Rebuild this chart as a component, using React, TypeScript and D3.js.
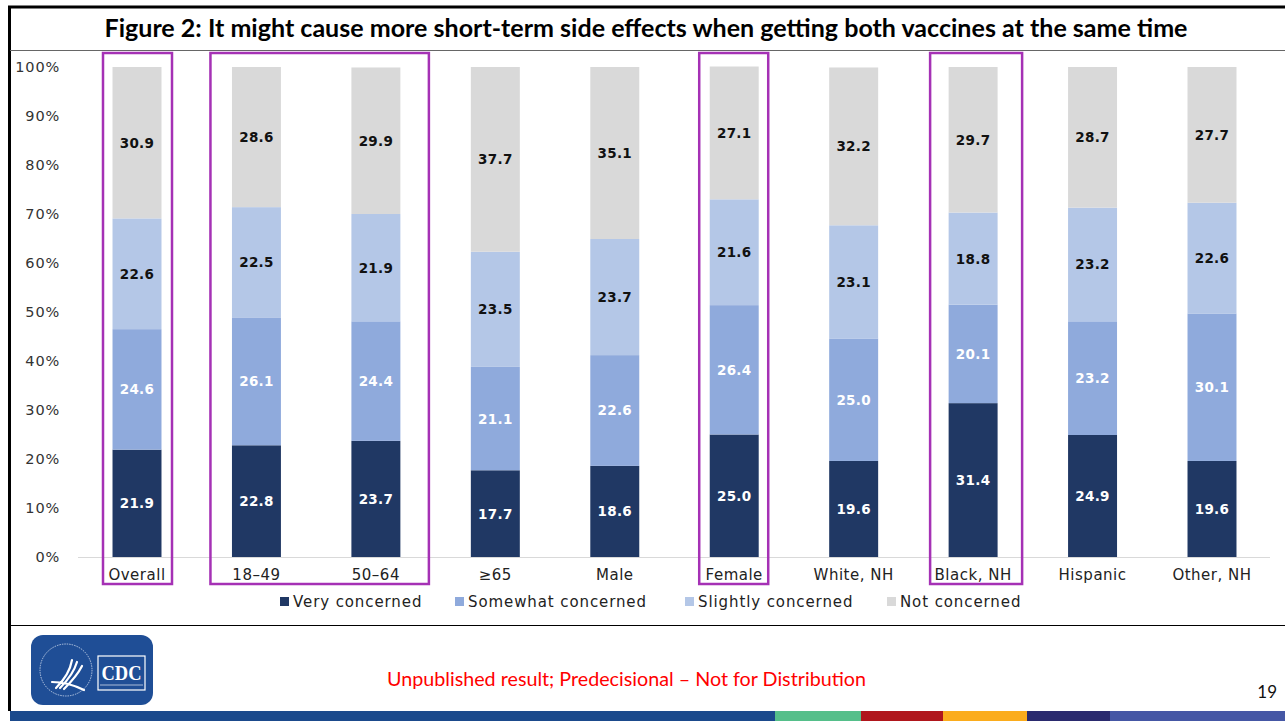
import React from "react";
import * as d3 from "d3";

const categories = ["Overall", "18–49", "50–64", "≥65", "Male", "Female", "White, NH", "Black, NH", "Hispanic", "Other, NH"];
const seriesNames = ["Very concerned", "Somewhat concerned", "Slightly concerned", "Not concerned"];
const veryConcerned = [21.9, 22.8, 23.7, 17.7, 18.6, 25.0, 19.6, 31.4, 24.9, 19.6];
const somewhatConcerned = [24.6, 26.1, 24.4, 21.1, 22.6, 26.4, 25.0, 20.1, 23.2, 30.1];
const slightlyConcerned = [22.6, 22.5, 21.9, 23.5, 23.7, 21.6, 23.1, 18.8, 23.2, 22.6];
const notConcerned = [30.9, 28.6, 29.9, 37.7, 35.1, 27.1, 32.2, 29.7, 28.7, 27.7];
const yTicks = [0, 10, 20, 30, 40, 50, 60, 70, 80, 90, 100];
const highlightGroups = [["Overall"], ["18–49", "50–64"], ["Female"], ["Black, NH"]];

const colors = ["#203864", "#8faadc", "#b4c7e7", "#d9d9d9"];
const labelColors = ["#ffffff", "#ffffff", "#111111", "#111111"];
const stripe = ["#1b4a8c", "#55bf8a", "#b0161c", "#fbac1c", "#2a2a6e", "#4557a5"];
const stripeStops = [10, 775, 861, 943, 1027, 1110, 1285];

export default function App() {
  const W = 1285, H = 721;
  const values = [veryConcerned, somewhatConcerned, slightlyConcerned, notConcerned];
  const rows = categories.map((c, i) => {
    const o: any = { cat: c };
    seriesNames.forEach((s, k) => (o[s] = values[k][i]));
    return o;
  });
  const stack = d3.stack<any>().keys(seriesNames)(rows);
  const step = 119.44;
  const x = d3.scaleBand<string>().domain(categories).range([137 - step / 2, 1212 + step / 2]).paddingInner(0.59).paddingOuter(0.295);
  const y = d3.scaleLinear().domain([0, 100]).range([557, 67]);
  const bw = x.bandwidth();
  const font = "'DejaVu Sans', Verdana, sans-serif";
  const cx = (c: string) => (x(c) as number) + bw / 2;

  const boxPad: Record<string, [number, number]> = {
    "Overall": [34, 35],
    "18–49": [46, 0],
    "50–64": [0, 53],
    "Female": [35, 34],
    "Black, NH": [43, 49],
  };

  const legendX = [280, 455, 685, 887];

  return (
    <svg width={W} height={H} style={{ position: "absolute", left: 0, top: 0, background: "#fff" }}>
      <rect x={0} y={0} width={W} height={H} fill="#fff" />
      {/* frame lines */}
      <line x1={8} x2={W} y1={7} y2={7} stroke="#000" strokeWidth={3} />
      <line x1={9.5} x2={9.5} y1={6} y2={711} stroke="#000" strokeWidth={3} />
      <line x1={10} x2={W} y1={50.5} y2={50.5} stroke="#666" strokeWidth={1} />
      <line x1={10} x2={W} y1={625.5} y2={625.5} stroke="#000" strokeWidth={1.2} />

      <text x={646} y={37} textAnchor="middle" fontFamily="Lato, 'Open Sans', sans-serif" fontWeight={700} fontSize={25} textLength={1083} lengthAdjust="spacingAndGlyphs" fill="#000">
        Figure 2: It might cause more short-term side effects when getting both vaccines at the same time
      </text>

      {/* y axis */}
      {yTicks.map((t) => (
        <text key={t} x={60} y={y(t) + 5} textAnchor="end" fontFamily={font} fontSize={14.5} letterSpacing={0.8} fill="#333">
          {t}%
        </text>
      ))}
      <line x1={78} x2={1270} y1={557.5} y2={557.5} stroke="#d9d9d9" strokeWidth={1} />

      {/* bars */}
      {stack.map((layer, k) => (
        <g key={layer.key}>
          {layer.map((d, i) => (
            <rect key={i} x={x(categories[i])} y={y(d[1])} width={bw} height={y(d[0]) - y(d[1])} fill={colors[k]} />
          ))}
        </g>
      ))}
      {stack.map((layer, k) => (
        <g key={"l" + layer.key}>
          {layer.map((d, i) => (
            <text key={i} x={cx(categories[i])} y={y((d[0] + d[1]) / 2) + 5} textAnchor="middle" fontFamily={font} fontWeight={700} fontSize={13.5} letterSpacing={0.3} fill={labelColors[k]}>
              {values[k][i].toFixed(1)}
            </text>
          ))}
        </g>
      ))}

      {/* category labels */}
      {categories.map((c) => (
        <text key={c} x={cx(c)} y={580} textAnchor="middle" fontFamily={font} fontSize={15} letterSpacing={0.5} fill="#222">
          {c}
        </text>
      ))}

      {/* highlight boxes */}
      {highlightGroups.map((g, i) => {
        const first = g[0], last = g[g.length - 1];
        const x0 = cx(first) - boxPad[first][0];
        const x1 = cx(last) + boxPad[last][1];
        return <rect key={i} x={x0} y={53} width={x1 - x0} height={531} fill="none" stroke="#a531b5" strokeWidth={2.5} />;
      })}

      {/* legend */}
      {seriesNames.map((s, k) => (
        <g key={s}>
          <rect x={legendX[k]} y={597} width={9} height={9} fill={colors[k]} />
          <text x={legendX[k] + 13} y={607} fontFamily={font} fontSize={15} letterSpacing={0.9} fill="#222">
            {s}
          </text>
        </g>
      ))}

      {/* logo */}
      <g>
        <rect x={31} y={635} width={122} height={70} rx={12} fill="#1f4e96" />
        <circle cx={66} cy={670} r={26} fill="none" stroke="#d8e2f2" strokeWidth={0.8} strokeDasharray="1.5 1" />
        <path d="M56 688 C64 680 70 672 72 660 M60 688 C68 680 74 672 77 662 M64 689 C72 681 78 674 82 666 M52 682 C62 682 72 684 84 690" fill="none" stroke="#fff" strokeWidth={2.2} strokeLinecap="round" />
        <rect x={98} y={656} width={47} height={34} fill="none" stroke="#fff" strokeWidth={1.2} />
        <text x={121.5} y={680} textAnchor="middle" fontFamily="'Liberation Serif', serif" fontWeight={700} fontSize={21} fill="#fff" textLength={40} lengthAdjust="spacingAndGlyphs">CDC</text>
        <line x1={100} x2={143} y1={685} y2={685} stroke="#cfd9ea" strokeWidth={0.8} />
      </g>

      <text x={387} y={686} fontFamily="Lato, 'Open Sans', sans-serif" fontSize={18.5} fill="#ff0000" textLength={479} lengthAdjust="spacingAndGlyphs">
        Unpublished result; Predecisional – Not for Distribution
      </text>
      <text x={1277} y={698} textAnchor="end" fontFamily="Lato, 'Open Sans', sans-serif" fontSize={17} fill="#111">19</text>

      {/* bottom stripe */}
      {stripe.map((c, i) => (
        <rect key={i} x={stripeStops[i]} y={711} width={stripeStops[i + 1] - stripeStops[i]} height={10} fill={c} />
      ))}
    </svg>
  );
}
